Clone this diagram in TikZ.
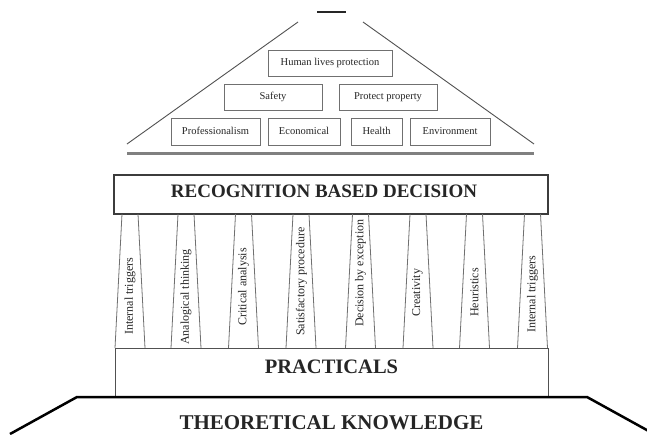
\documentclass[tikz,border=0pt]{standalone}
\usepackage{fontspec}
\setmainfont{Liberation Serif}
\definecolor{ink}{HTML}{262626}
\definecolor{edge}{HTML}{707070}
\tikzset{
  roofbox/.style={draw=edge, line width=0.8pt, inner sep=0pt, text height=7pt, text depth=2pt, font=\fontsize{10.5}{12}\selectfont, text=ink},
  pillar/.style={draw=edge, line width=0.8pt},
  pillartext/.style={rotate=90, anchor=west, inner sep=0pt, font=\fontsize{12}{14}\selectfont, text=ink},
  bigtext/.style={inner sep=0pt, font=\bfseries, text=ink}
}
\begin{document}
\begin{tikzpicture}[x=1pt,y=-1pt]
    \clip (0,0) rectangle (647,434);
    \fill [white] (0,0) rectangle (647,434);
    % roof
    \draw [ink, line width=1.3pt] (317,12)--(346,12);
    \draw [ink!80, line width=0.9pt] (298,22)--(127,144);
    \draw [ink!80, line width=0.9pt] (363,22)--(534,144);
    \draw [gray, line width=3pt] (127,153)--(534,153);
    \node [roofbox, minimum width=124pt, minimum height=26pt] (human) at (330,63) {Human lives protection};
    \node [roofbox, minimum width=98pt, minimum height=26pt] (safety) at (273,97) {Safety};
    \node [roofbox, minimum width=98pt, minimum height=26pt] (property) at (388,97) {Protect property};
    \node [roofbox, minimum width=89pt, minimum height=27pt] (prof) at (215.5,131.5) {Professionalism};
    \node [roofbox, minimum width=72pt, minimum height=27pt] (econ) at (304,131.5) {Economical};
    \node [roofbox, minimum width=51pt, minimum height=27pt] (health) at (376.5,131.5) {Health};
    \node [roofbox, minimum width=80pt, minimum height=27pt] (env) at (450,131.5) {Environment};
    % beam
    \draw [ink!90, line width=2.5pt] (114,175) rectangle (548,214);
    \node [bigtext, font=\fontsize{19}{22}\selectfont\bfseries] (rbd) at (324,191) {RECOGNITION BASED DECISION};
    % pillars
    \draw [pillar] (122,214)--(115,348);
    \draw [pillar] (138,214)--(145,348);
    \draw [pillar] (178,214)--(171,348);
    \draw [pillar] (194,214)--(201,348);
    \draw [pillar] (235.5,214)--(228.5,348);
    \draw [pillar] (251.5,214)--(258.5,348);
    \draw [pillar] (293,214)--(286,348);
    \draw [pillar] (309,214)--(316,348);
    \draw [pillar] (352.5,214)--(345.5,348);
    \draw [pillar] (368.5,214)--(375.5,348);
    \draw [pillar] (410,214)--(403,348);
    \draw [pillar] (426,214)--(433,348);
    \draw [pillar] (466.5,214)--(459.5,348);
    \draw [pillar] (482.5,214)--(489.5,348);
    \draw [pillar] (524.5,214)--(517.5,348);
    \draw [pillar] (540.5,214)--(547.5,348);
    \node [pillartext] (trigA) at (130,335) {Internal triggers};
    \node [pillartext] (analog) at (186,345) {Analogical thinking};
    \node [pillartext] (critical) at (243.5,326) {Critical analysis};
    \node [pillartext] (satisf) at (301.5,336) {Satisfactory procedure};
    \node [pillartext] (except) at (360.5,327) {Decision by exception};
    \node [pillartext] (creat) at (417.5,317) {Creativity};
    \node [pillartext] (heur) at (474.5,317) {Heuristics};
    \node [pillartext] (trigB) at (532.5,333) {Internal triggers};
    % base
    \draw [ink!80, line width=0.8pt] (115,348) rectangle (548,397);
    \node [bigtext, font=\fontsize{20.5}{24}\selectfont\bfseries] (prac) at (331.5,367) {PRACTICALS};
    \draw [black, line width=2.5pt] (10,434)--(77,397)--(587,397)--(654,434);
    \node [bigtext, font=\fontsize{21}{24}\selectfont\bfseries] (theo) at (331.5,423) {THEORETICAL KNOWLEDGE};
  \end{tikzpicture}
\end{document}
